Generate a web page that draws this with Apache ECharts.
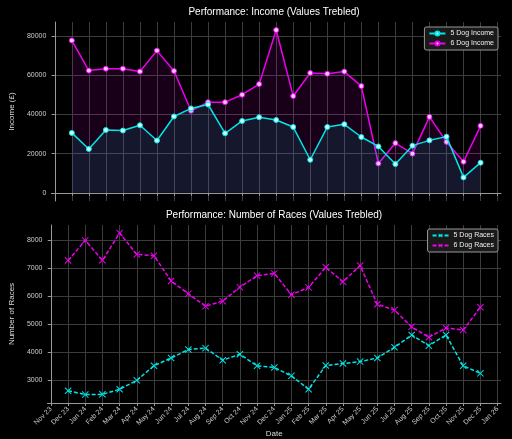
<!DOCTYPE html>
<html><head><meta charset="utf-8">
<script src="https://cdn.jsdelivr.net/npm/echarts@6/dist/echarts.min.js"></script>
<style>html,body{margin:0;padding:0;background:#000;}#c{width:512px;height:439px;}</style>
</head><body><div id="c"></div>
<script>
const monthLabels = ['Nov 23','Dec 23','Jan 24','Feb 24','Mar 24','Apr 24','May 24','Jun 24','Jul 24','Aug 24','Sep 24','Oct 24','Nov 24','Dec 24','Jan 25','Feb 25','Mar 25','Apr 25','May 25','Jun 25','Jul 25','Aug 25','Sep 25','Oct 25','Nov 25','Dec 25','Jan 26'];
// data months: Dec 23 .. Dec 25 (index 1..25 in monthLabels)
const income5 = [30600,22400,32100,31800,34500,26700,39000,43100,45100,30400,36700,38600,37200,33600,16900,33600,35000,28500,23700,14700,24100,26800,28700,7900,15400];
const income6 = [77800,62400,63400,63400,61900,72600,62200,41900,46300,46300,50100,55500,83100,49400,61200,60800,61900,54500,15000,25400,20000,38800,26000,15900,34200];
const races5 = [2620,2480,2490,2670,2990,3510,3790,4090,4140,3710,3920,3510,3450,3150,2670,3520,3590,3660,3790,4170,4610,4230,4610,3510,3240];
const races6 = [7270,7990,7280,8250,7490,7440,6540,6080,5640,5820,6320,6730,6810,6050,6310,7030,6510,7090,5710,5500,4900,4530,4860,4790,5600];
const incomeTicks = [0,20000,40000,60000,80000];
const racesTicks = [3000,4000,5000,6000,7000,8000];

const monthIdx = monthLabels.map((_, i) => i);
const pts = arr => arr.map((v, i) => [i + 1, v]);

const FONT = 'Liberation Sans';
const CYAN = '#00e5e5', MAG = '#ee00ee';
const GRIDC = '#3c3c3c';
const XPATH = 'path://M0,1L1,0L5,4L9,0L10,1L6,5L10,9L9,10L5,6L1,10L0,9L4,5Z';

function xAxis(gi, showLabels) {
  return {
    type: 'value', gridIndex: gi, min: -0.2, max: 26.2,
    name: showLabels ? 'Date' : '', nameLocation: 'middle', nameGap: 27,
    nameTextStyle: {color: '#ddd', fontSize: 8, fontFamily: FONT},
    axisLine: {show: true, lineStyle: {color: '#999', width: 1}},
    axisTick: {show: true, length: 3, customValues: monthIdx, lineStyle: {color: '#999'}},
    axisLabel: {show: showLabels, customValues: monthIdx, rotate: 45, color: '#ccc', fontSize: 7, fontFamily: FONT, margin: 5,
      formatter: v => monthLabels[Math.round(v)] || ''},
    splitLine: {show: true, lineStyle: {color: GRIDC, width: 1}}
  };
}
function yAxis(gi, min, max, ticks, name) {
  return {
    type: 'value', gridIndex: gi, min: min, max: max,
    name: name, nameLocation: 'middle', nameGap: 26,
    nameTextStyle: {color: '#ddd', fontSize: 8, fontFamily: FONT},
    axisLine: {show: true, lineStyle: {color: '#999', width: 1}},
    axisTick: {show: true, length: 3, customValues: ticks, lineStyle: {color: '#999'}},
    axisLabel: {customValues: ticks, color: '#ccc', fontSize: 7, fontFamily: FONT, margin: 5,
      formatter: v => String(Math.round(v))},
    splitLine: {show: true, lineStyle: {color: GRIDC, width: 1}}
  };
}
function incomeSeries(name, data, color, light, z) {
  return {
    name: name, type: 'line', xAxisIndex: 0, yAxisIndex: 0, data: pts(data), z: z,
    symbol: 'circle', symbolSize: 5, showSymbol: true,
    lineStyle: {color: color, width: 1.5},
    itemStyle: {color: light, borderColor: color, borderWidth: 1},
    areaStyle: {color: color, opacity: 0.1, origin: 0},
    animation: false
  };
}
function raceSeries(name, data, color, z) {
  return {
    name: name, type: 'line', xAxisIndex: 1, yAxisIndex: 1, data: pts(data), z: z,
    symbol: XPATH, symbolSize: 7, showSymbol: true,
    lineStyle: {color: color, width: 1.5, type: [4, 2]},
    itemStyle: {color: color},
    animation: false
  };
}
const legendCommon = {
  orient: 'vertical', backgroundColor: '#1a1a1a', borderColor: '#999', borderWidth: 1, borderRadius: 2,
  padding: [3, 4], itemGap: 3, itemWidth: 16, itemHeight: 5,
  textStyle: {color: '#eee', fontSize: 7, fontFamily: FONT}
};
const chart = echarts.init(document.getElementById('c'), null, {renderer: 'canvas'});
chart.setOption({
  backgroundColor: '#000',
  animation: false,
  title: [
    {text: 'Performance: Income (Values Trebled)', left: 269, top: 2, textAlign: 'center',
      textStyle: {color: '#fff', fontSize: 10, fontWeight: 'normal', fontFamily: FONT}},
    {text: 'Performance: Number of Races (Values Trebled)', left: 269, top: 205, textAlign: 'center',
      textStyle: {color: '#fff', fontSize: 10, fontWeight: 'normal', fontFamily: FONT}}
  ],
  grid: [
    {left: 37, right: 11, top: 22, height: 179},
    {left: 37, right: 11, top: 225, height: 178}
  ],
  legend: [
    Object.assign({data: ['5 Dog Income', '6 Dog Income'], right: 14, top: 27}, legendCommon),
    Object.assign({data: ['5 Dog Races', '6 Dog Races'], right: 14, top: 229}, legendCommon)
  ],
  xAxis: [xAxis(0, false), xAxis(1, true)],
  yAxis: [
    yAxis(0, -4150, 87200, incomeTicks, 'Income (£)'),
    yAxis(1, 2180, 8540, racesTicks, 'Number of Races')
  ],
  series: [
    incomeSeries('5 Dog Income', income5, CYAN, '#c8ffff', 3),
    incomeSeries('6 Dog Income', income6, MAG, '#ffc8ff', 2),
    raceSeries('5 Dog Races', races5, CYAN, 3),
    raceSeries('6 Dog Races', races6, MAG, 2)
  ]
});
</script></body></html>
